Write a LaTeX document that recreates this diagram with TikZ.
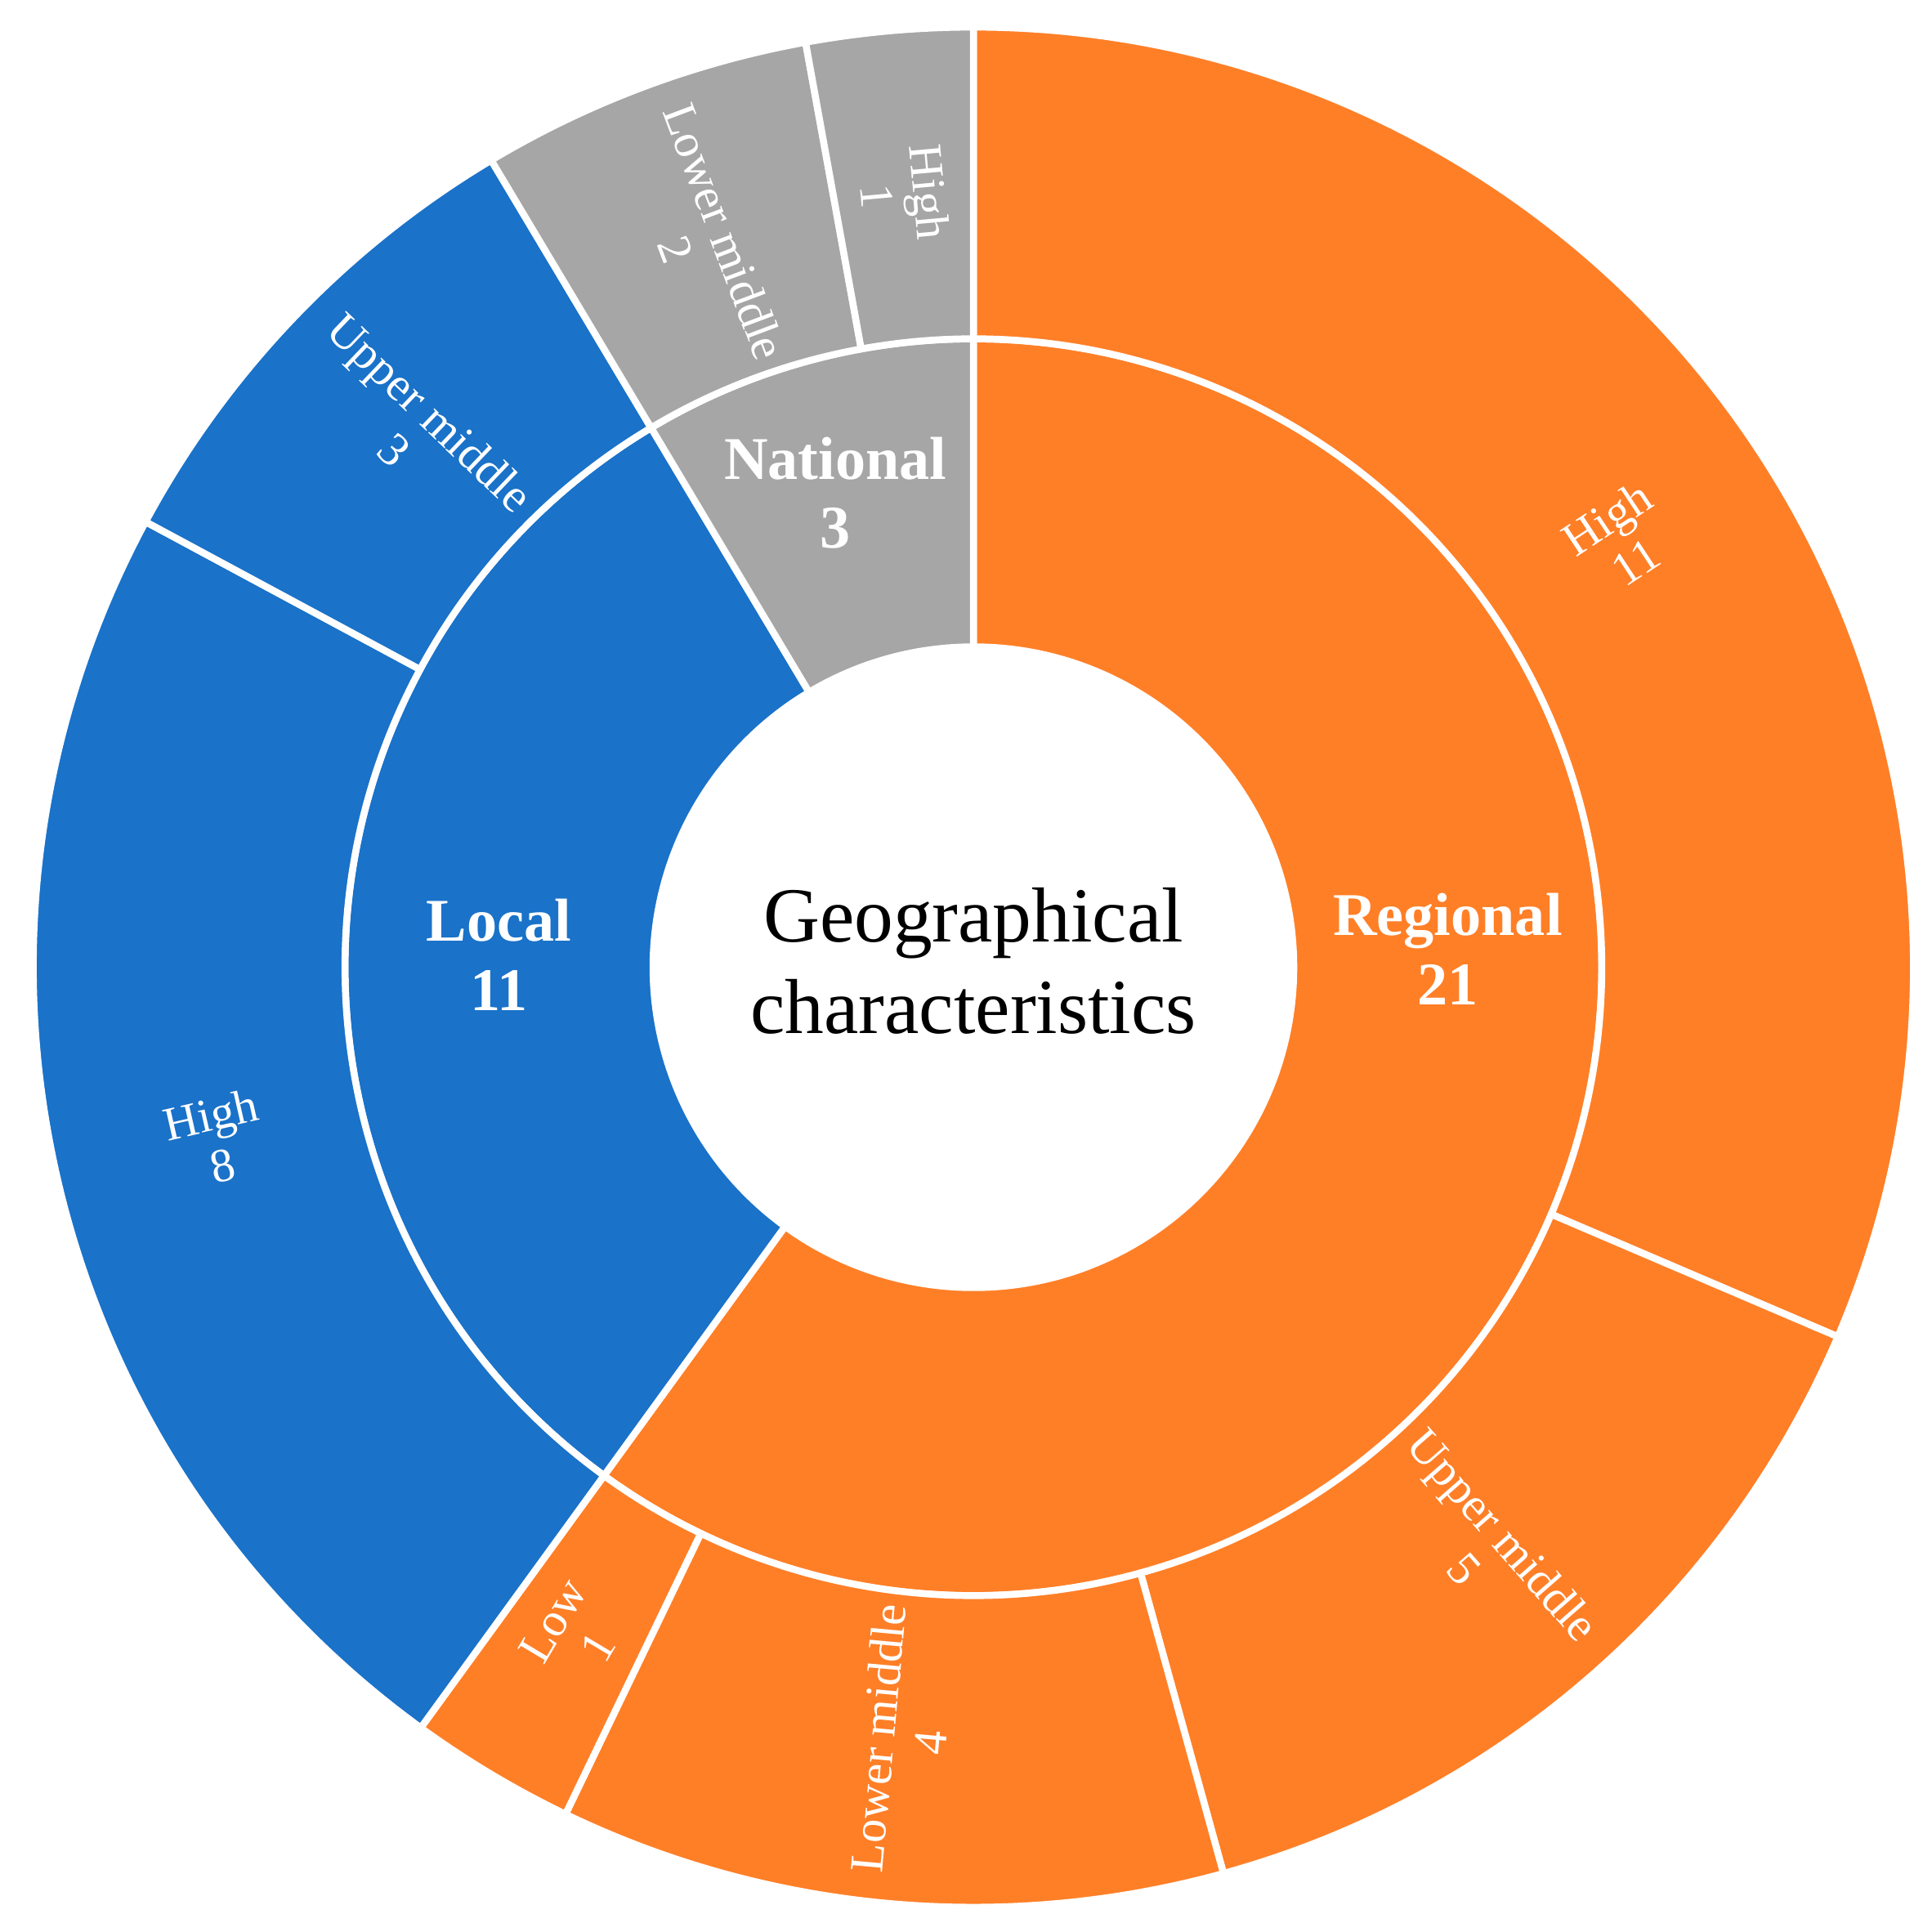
\documentclass[tikz,border=0pt]{standalone}
\usepackage{fontspec}
\setmainfont{Liberation Serif}
\definecolor{cO}{HTML}{FF7F27}
\definecolor{cB}{HTML}{1A72C9}
\definecolor{cG}{HTML}{A6A6A6}
\begin{document}
\begin{tikzpicture}
\useasboundingbox (-7.90,-7.83) rectangle (7.78,7.85);
\tikzset{seg/.style={fill=#1,draw=white,line width=1.6pt,line join=round},
 inl/.style={text=white,font=\bfseries\fontsize{14}{16}\selectfont,align=center},
 outl/.style={text=white,font=\fontsize{11}{12}\selectfont,align=center}}
\def\ra{2.60}\def\rb{5.10}\def\rc{7.63}
% inner ring
\foreach \a/\b/\c in {90/-126/cO,-126/-239.143/cB,-239.143/-270/cG}{
 \path[seg=\c] (\a:\ra) arc[start angle=\a,end angle=\b,radius=\ra] -- (\b:\rb) arc[start angle=\b,end angle=\a,radius=\rb] -- cycle;}
% outer ring
\foreach \a/\b/\c in {90/-23.143/cO,-23.143/-74.571/cO,-74.571/-115.714/cO,-115.714/-126/cO,-126/-208.286/cB,-208.286/-239.143/cB,-239.143/-259.714/cG,-259.714/-270/cG}{
 \path[seg=\c] (\a:\rb) arc[start angle=\a,end angle=\b,radius=\rb] -- (\b:\rc) arc[start angle=\b,end angle=\a,radius=\rc] -- cycle;}
\node[font=\fontsize{18}{21}\selectfont,align=center] (center) at (0,0.05) {Geographical\\characteristics};
\node[inl] (reg) at (3.85,0.15) {Regional\\21};
\node[inl] (loc) at (-3.85,0.1) {Local\\11};
\node[inl] (nat) at (-1.12,3.85) {National\\3};
\node[outl,rotate=33.43] (o1) at (33.43:6.3) {High\\11};
\node[outl,rotate=-48.86] (o2) at (-48.86:6.3) {Upper middle\\5};
\node[outl,rotate=84.86] (o3) at (-95.14:6.3) {Lower middle\\4};
\node[outl,rotate=59.14] (o4) at (-120.86:6.3) {Low\\1};
\node[outl,rotate=12.86] (o5) at (-167.14:6.3) {High\\8};
\node[outl,rotate=-43.71] (o6) at (136.29:6.3) {Upper middle\\3};
\node[outl,rotate=-69.43] (o7) at (110.57:6.3) {Lower middle\\2};
\node[outl,rotate=-84.86] (o8) at (95.14:6.3) {High\\1};
\end{tikzpicture}
\end{document}
